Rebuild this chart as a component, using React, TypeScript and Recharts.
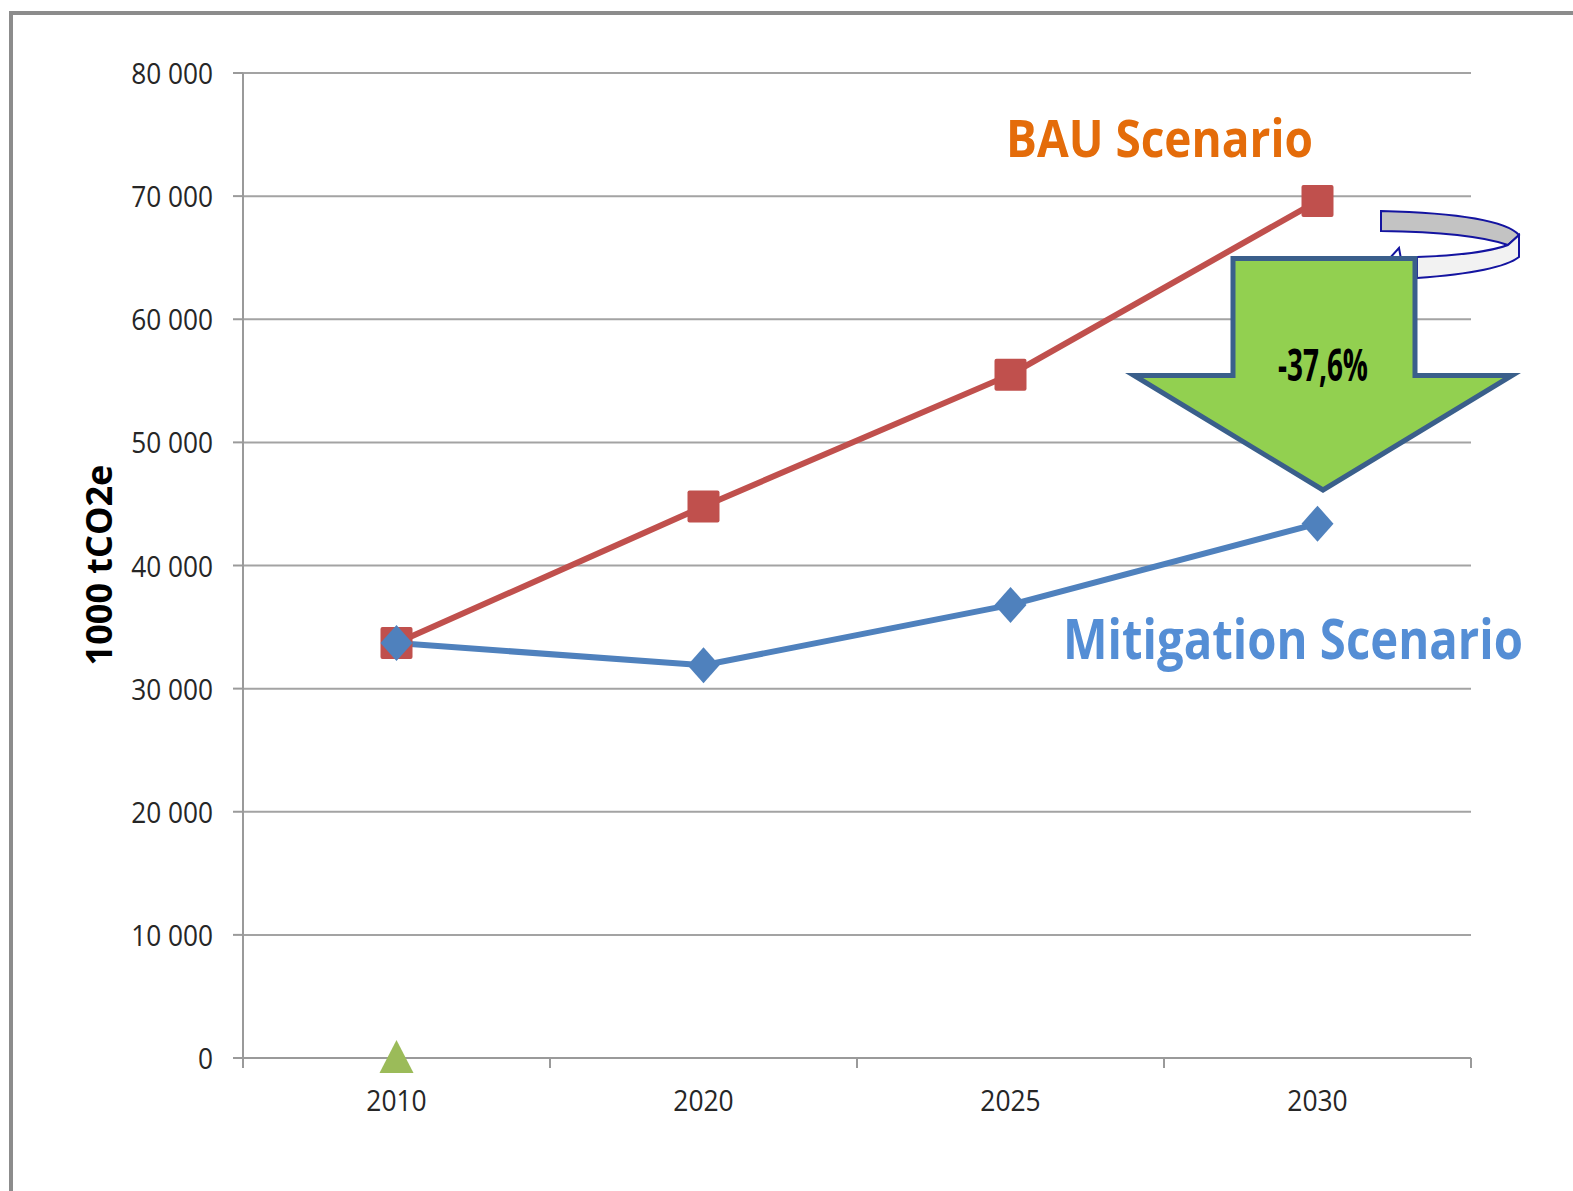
import React from 'react';
import { LineChart, Line, XAxis, YAxis, CartesianGrid } from 'recharts';

const years = ['2010', '2020', '2025', '2030'];
const bauValues = [33700, 44800, 55500, 69600];
const mitigationValues = [33700, 31900, 36800, 43400];
const baseValues: (number | null)[] = [0, null, null, null];
const yTicks = [0, 10000, 20000, 30000, 40000, 50000, 60000, 70000, 80000];

const data = years.map((year, i) => ({
  year,
  bau: bauValues[i],
  mitigation: mitigationValues[i],
  base: baseValues[i],
}));

const W = 1573;
const H = 1191;
const Y_AXIS_W = 100;
const X_AXIS_H = 60;
const margin = { top: 73, right: 102, bottom: 73, left: 143 };
const plotW = W - margin.left - Y_AXIS_W - margin.right;
const halfBand = plotW / years.length / 2;

const FONT = "'Open Sans', sans-serif";
const AXIS_GREY = '#9a9a9a';

const fmt = (v: number) => String(v).replace(/\B(?=(\d{3})+(?!\d))/g, ' ');

const YTick = (props: any) => {
  const { x, y, payload } = props;
  return (
    <g transform={`translate(${x},${y})`}>
      <text transform="scale(0.875,1)" textAnchor="end" dy={11} fontFamily={FONT} fontSize={30} fill="#262626">
        {fmt(payload.value)}
      </text>
    </g>
  );
};

const XTick = (props: any) => {
  const { x, y, payload, index } = props;
  return (
    <g>
      <line x1={x - halfBand} x2={x - halfBand} y1={y} y2={y + 10} stroke={AXIS_GREY} strokeWidth={2} />
      {index === years.length - 1 && (
        <line x1={x + halfBand} x2={x + halfBand} y1={y} y2={y + 10} stroke={AXIS_GREY} strokeWidth={2} />
      )}
      <g transform={`translate(${x},${y + 53})`}>
        <text transform="scale(0.88,1)" textAnchor="middle" fontFamily={FONT} fontSize={30} fill="#262626">
          {payload.value}
        </text>
      </g>
    </g>
  );
};

const SquareDot = (props: any) => {
  const { cx, cy, index } = props;
  if (cx == null || cy == null) return <g key={`sq-${index}`} />;
  return <rect key={`sq-${index}`} x={cx - 16} y={cy - 16} width={32} height={32} rx={2} fill="#C0504D" />;
};

const DiamondDot = (props: any) => {
  const { cx, cy, index } = props;
  if (cx == null || cy == null) return <g key={`dm-${index}`} />;
  return (
    <path
      key={`dm-${index}`}
      d={`M${cx},${cy - 18} L${cx + 16},${cy} L${cx},${cy + 18} L${cx - 16},${cy} Z`}
      fill="#4F81BD"
    />
  );
};

const TriangleDot = (props: any) => {
  const { cx, cy, index } = props;
  if (cx == null || cy == null) return <g key={`tr-${index}`} />;
  return (
    <path key={`tr-${index}`} d={`M${cx},${cy - 18} L${cx + 17},${cy + 15} L${cx - 17},${cy + 15} Z`} fill="#9BBB59" />
  );
};

// condensed bold label: squeeze horizontally so it fits the measured width
const Squeezed = ({ x, y, w, sx, size, color, children }: any) => (
  <g transform={`translate(${x},${y}) scale(${sx},1)`}>
    <text
      x={0}
      y={0}
      textLength={w / sx}
      lengthAdjust="spacingAndGlyphs"
      fontFamily={FONT}
      fontWeight="bold"
      fontSize={size}
      fill={color}
    >
      {children}
    </text>
  </g>
);

// decorations drawn over the chart: frame, labels, the big arrow
const Overlay = () => (
  <svg width={W} height={H} style={{ position: 'absolute', left: 0, top: 0, pointerEvents: 'none' }}>
    <line x1={9} x2={W} y1={13} y2={13} stroke="#8c8c8c" strokeWidth={4} />
    <line x1={11} x2={11} y1={11} y2={H} stroke="#8c8c8c" strokeWidth={4} />

    <text
      transform="translate(112,565) rotate(-90)"
      textAnchor="middle"
      fontFamily={FONT}
      fontWeight="bold"
      fontSize={36}
      fill="#000"
    >
      1000 tCO2e
    </text>

    <Squeezed x={1006} y={157} w={307} sx={0.8} size={52} color="#E46C0A">
      BAU Scenario
    </Squeezed>
    <Squeezed x={1063} y={659} w={460} sx={0.86} size={56} color="#558ED5">
      Mitigation Scenario
    </Squeezed>

    {/* circular arrow */}
    <path d="M1381,211 Q1500,214 1519,235 L1508,245 Q1470,232 1381,231 Z" fill="#c3c3c3" stroke="#1414a0" strokeWidth={2} />
    <path d="M1508,245 L1519,235 L1519,257 Q1500,272 1417,278 L1417,257 Q1480,255 1508,245 Z" fill="#f2f2f2" stroke="#1414a0" strokeWidth={2} />
    <path d="M1389,259 L1399,248 L1401,259" fill="none" stroke="#1414a0" strokeWidth={2} />

    {/* block arrow */}
    <path
      d="M1233,258.5 L1415,258.5 L1415,375.5 L1512,375.5 L1323,490 L1134,375.5 L1233,375.5 Z"
      fill="#92D050"
      stroke="#3A5F8B"
      strokeWidth={5}
    />
    <Squeezed x={1278} y={381} w={90} sx={0.8} size={44} color="#000">
      -37,6%
    </Squeezed>
  </svg>
);

export default function App() {
  return (
    <div style={{ position: 'absolute', left: 0, top: 0, width: W, height: H, background: '#fff' }}>
      <LineChart width={W} height={H} data={data} margin={margin}>
        <CartesianGrid vertical={false} stroke="#a3a3a3" strokeWidth={2} />
        <XAxis
          dataKey="year"
          padding={{ left: halfBand, right: halfBand }}
          axisLine={{ stroke: AXIS_GREY, strokeWidth: 2 }}
          tickLine={false}
          tickSize={0}
          tickMargin={0}
          tick={XTick}
          interval={0}
          height={X_AXIS_H}
        />
        <YAxis
          width={Y_AXIS_W}
          domain={[0, 80000]}
          ticks={yTicks}
          interval={0}
          axisLine={{ stroke: AXIS_GREY, strokeWidth: 2 }}
          tickLine={{ stroke: AXIS_GREY, strokeWidth: 2 }}
          tickSize={10}
          tickMargin={20}
          tick={YTick}
        />
        <Line
          dataKey="bau"
          name="BAU Scenario"
          stroke="#C0504D"
          strokeWidth={6}
          dot={SquareDot}
          activeDot={false}
          isAnimationActive={false}
        />
        <Line
          dataKey="mitigation"
          name="Mitigation Scenario"
          stroke="#4F81BD"
          strokeWidth={6}
          dot={DiamondDot}
          activeDot={false}
          isAnimationActive={false}
        />
        <Line
          dataKey="base"
          name="Base"
          stroke="none"
          dot={TriangleDot}
          activeDot={false}
          isAnimationActive={false}
        />
      </LineChart>
      <Overlay />
    </div>
  );
}
